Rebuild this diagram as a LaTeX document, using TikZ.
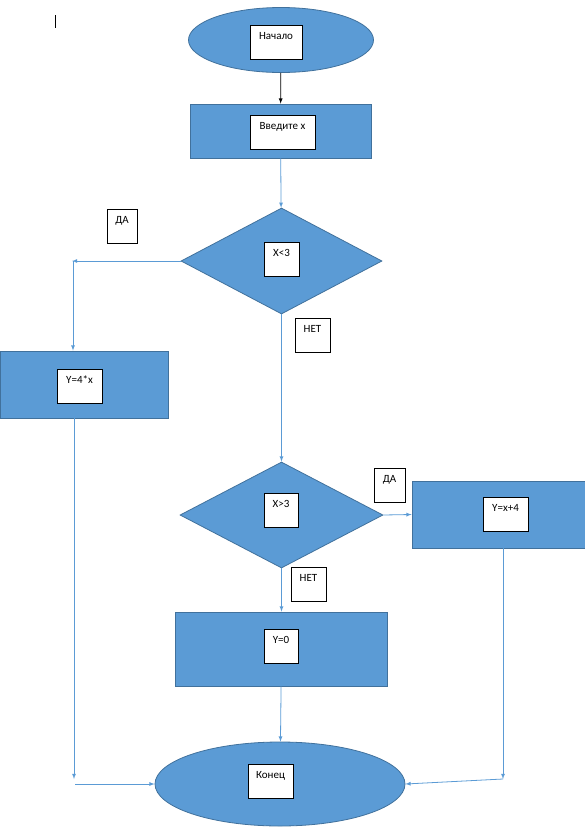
\documentclass[tikz,border=0pt]{standalone}
\usepackage{fontspec}
\setmainfont{Carlito}
\usetikzlibrary{shapes.geometric,arrows}

\definecolor{blockfill}{HTML}{5B9BD5}
\definecolor{blockline}{HTML}{41719C}
\definecolor{connline}{HTML}{5B9BD5}

\tikzset{
  block/.style={draw=blockline,fill=blockfill,line width=0.8pt,inner sep=0pt},
  txtbox/.style={draw,fill=white,line width=0.7pt,inner sep=3pt,text height=11pt,
    text depth=17pt,anchor=north,font=\fontsize{11}{13}\selectfont},
  conn/.style={->,draw=connline,line width=0.8pt}
}

\begin{document}
\begin{tikzpicture}[x=1pt,y=-1pt,>=latex]
  \useasboundingbox (0,0) rectangle (585,839);
  \draw[line width=0.8pt] (55,15) -- (55,28);
  \node[block,ellipse,minimum width=185pt,minimum height=65pt] (start) at (281,40) {};
  \node[block,rectangle,minimum width=181pt,minimum height=54pt] (input) at (280.5,131) {};
  \node[block,diamond,minimum width=201pt,minimum height=106pt] (cond1) at (281.5,261) {};
  \node[block,rectangle,minimum width=168pt,minimum height=67pt] (left) at (84,384.5) {};
  \node[block,diamond,minimum width=203pt,minimum height=106pt] (cond2) at (281.5,515) {};
  \node[block,rectangle,minimum width=182pt,minimum height=67pt] (right) at (503,514.5) {};
  \node[block,rectangle,minimum width=212pt,minimum height=74pt] (zero) at (281.5,649) {};
  \node[block,ellipse,minimum width=250pt,minimum height=84pt] (end) at (280,784) {};
  \node[txtbox,minimum width=52pt] (tstart) at (276,25) {Начало};
  \node[txtbox,minimum width=65pt] (tinput) at (282.5,115) {Введите x};
  \node[txtbox,minimum width=35pt] (tcond1) at (281.5,242) {X<3};
  \node[txtbox,minimum width=30pt] (yes1) at (122,209) {ДА};
  \node[txtbox,minimum width=45pt] (tleft) at (79.5,369) {Y=4*x};
  \node[txtbox,minimum width=35pt] (no1) at (312.5,318) {НЕТ};
  \node[txtbox,minimum width=34pt] (tcond2) at (281,493) {X>3};
  \node[txtbox,minimum width=31pt] (yes2) at (389.5,468) {ДА};
  \node[txtbox,minimum width=45pt] (tright) at (505.5,497) {Y=x+4};
  \node[txtbox,minimum width=35pt] (no2) at (308.5,567) {НЕТ};
  \node[txtbox,minimum width=34pt] (tzero) at (281,629) {Y=0};
  \node[txtbox,minimum width=45pt] (tend) at (270.5,764) {Конец};
  \coordinate (c1) at (72,261);
  \coordinate (c2) at (73,261);
  \coordinate (c3) at (74,779);
  \coordinate (c4) at (75,784);
  \coordinate (c5) at (503,779);
  \draw[->,line width=0.8pt] (start) -- (input);
  \draw[conn] (input) -- (cond1);
  \draw[conn] (cond1.west) -- (c1);
  \draw[conn] (c2) -- (c2 |- left.north);
  \draw[conn] (cond1) -- (cond2);
  \draw[conn] (cond2.east) -- (right.west);
  \draw[conn] (cond2) -- (zero);
  \draw[conn] (zero) -- (end);
  \draw[conn] (c3 |- left.south) -- (c3);
  \draw[conn] (c4) -- (end.west);
  \draw[conn] (c5 |- right.south) -- (c5);
  \draw[conn] (c5) -- (end.east);
\end{tikzpicture}
\end{document}
